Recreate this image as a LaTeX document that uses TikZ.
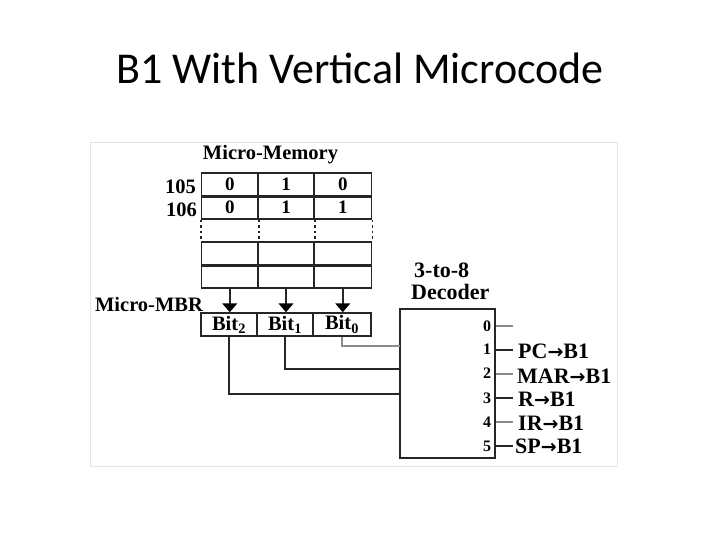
\documentclass[tikz,border=0pt]{standalone}
\usepackage{fontspec}
\setmainfont{Liberation Serif}
\newfontfamily\titlefont{Carlito}
\newfontfamily\arrowfont{DejaVu Sans}
\newcommand{\busarrow}{{\arrowfont\bfseries\fontsize{19}{19}\selectfont →}}
\usetikzlibrary{arrows.meta}
\tikzset{
    cellbox/.style={draw=black!85, line width=1.5pt, minimum height=23pt, inner sep=0pt, font=\bfseries\fontsize{19}{19}\selectfont},
    bitbox/.style={cellbox, font=\bfseries\fontsize{20.5}{20}\selectfont},
    label/.style={inner sep=0pt, font=\bfseries\fontsize{20.5}{21}\selectfont},
    outlabel/.style={anchor=west, inner sep=0pt, font=\bfseries\fontsize{22}{22}\selectfont},
    wire/.style={draw=black!85, line width=1.5pt},
    softwire/.style={draw=black!45, line width=2.4pt},
    tipwire/.style={wire, -{Triangle[width=15pt,length=9pt,color=black]}}
}
\begin{document}
\begin{tikzpicture}[x=1pt, y=-1pt]
    \useasboundingbox (0, 0) rectangle (720, 540);

    % Title
    \node[font=\titlefont\fontsize{44}{44}\selectfont, inner sep=0pt] (title) at (360, 68) {B1 With Vertical Microcode};

    % Pale panel behind the figure
    \node[draw=black!10, line width=1pt, minimum width=527pt, minimum height=323pt, inner sep=0pt] (panel) at (353.5, 304.5) {};

    % Micro-Memory rows
    \foreach \rowname/\rowy/\vala/\valb/\valc in {ma/184.5/0/1/0, mb/207.5/0/1/1, mc/253.5///, md/276.5///} {
        \node[cellbox, minimum width=56.5pt] (\rowname1) at (229.75, \rowy) {\vala};
        \node[cellbox, minimum width=56pt] (\rowname2) at (286, \rowy) {\valb};
        \node[cellbox, minimum width=57.5pt] (\rowname3) at (342.75, \rowy) {\valc};
    }

    % Heavier lines between the rows
    \draw[wire, line width=2.6pt] (ma1.south west) -- (ma3.south east);
    \draw[wire, line width=2.6pt] (mc1.south west) -- (mc3.south east);

    % Dotted gap in the memory
    \draw[wire, dash pattern=on 2.5pt off 3pt] (mb1.south west) -- (mc1.north west);
    \draw[wire, dash pattern=on 2.5pt off 3pt] (mb1.south east) -- (mc1.north east);
    \draw[wire, dash pattern=on 2.5pt off 3pt] (mb2.south east) -- (mc2.north east);
    \draw[wire, dash pattern=on 2.5pt off 3pt] (mb3.south east) -- (mc3.north east);

    % Memory labels
    \node[label] (memtitle) at (270.5, 154.5) {Micro-Memory};
    \node[label, anchor=east] (addr105) at (196, 187) {105};
    \node[label, anchor=east] (addr106) at (197, 210) {106};
    \node[label] (mbrtitle) at (149, 304) {Micro-MBR};

    % Micro-MBR
    \node[bitbox, minimum width=56pt] (bit2) at (229, 324.5) {Bit$_{\mathbf{2}}$};
    \node[bitbox, minimum width=56pt] (bit1) at (285, 324.5) {Bit$_{\mathbf{1}}$};
    \node[bitbox, minimum width=58pt] (bit0) at (342, 324.5) {Bit$_{\mathbf{0}}$};

    % Arrows into the Micro-MBR
    \draw[tipwire] (md1.south) -- (md1.south |- bit2.north);
    \draw[tipwire] (md2.south) -- (md2.south |- bit1.north);
    \draw[tipwire] (md3.south) -- (md3.south |- bit0.north);

    % Decoder
    \node[draw=black!85, line width=2pt, minimum width=95pt, minimum height=149pt, inner sep=0pt] (dec) at (447.5, 383.5) {};
    \node[label, anchor=west, font=\bfseries\fontsize{22}{23}\selectfont] (dectop) at (414, 270) {3-to-8};
    \node[label, anchor=west, font=\bfseries\fontsize{22}{23}\selectfont] (decbot) at (411, 292) {Decoder};

    % Decoder inputs
    \coordinate (in0) at (400, 346);
    \coordinate (in1) at (400, 369);
    \coordinate (in2) at (400, 394);
    \draw[softwire] (bit0.south) |- (in0);
    \draw[wire, line width=2.4pt] (bit1.south) |- (in1);
    \draw[wire] (bit2.south) |- (in2);

    % Decoder outputs
    \foreach \outnum/\outy/\numy/\wirestyle in {0/326/326/softwire, 1/350/349/wire, 2/374/373/softwire, 3/398/398/wire, 4/422/422/softwire, 5/446/446/wire} {
        \node[label, font=\bfseries\fontsize{16}{16}\selectfont] (num\outnum) at (487, \numy) {\outnum};
        \coordinate (out\outnum) at (513, \outy);
        \draw[\wirestyle] (dec.east |- out\outnum) -- (out\outnum);
    }
    \node[outlabel] (pcb) at (518, 351) {PC\busarrow B1};
    \node[outlabel] (marb) at (517, 376) {MAR\busarrow B1};
    \node[outlabel] (rb) at (518, 399) {R\busarrow B1};
    \node[outlabel] (irb) at (518, 423) {IR\busarrow B1};
    \node[outlabel] (spb) at (515, 446) {SP\busarrow B1};
\end{tikzpicture}
\end{document}
